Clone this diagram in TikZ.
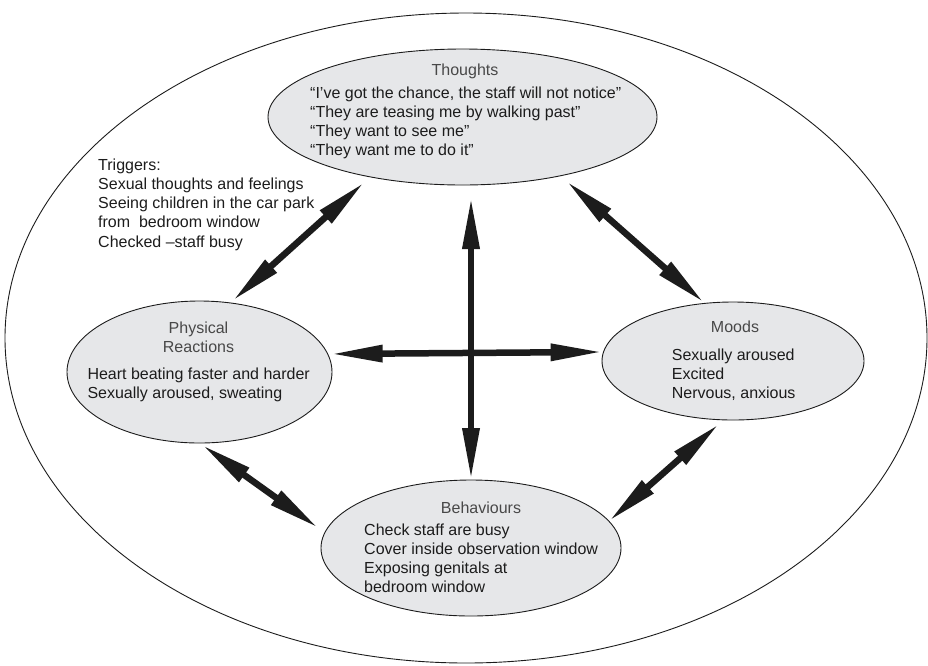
\documentclass[tikz,border=0pt]{standalone}
\usepackage{fontspec}
\setmainfont{Liberation Sans}
\usetikzlibrary{shapes.geometric,arrows.meta}
\definecolor{bubblefill}{RGB}{230,231,233}
\definecolor{ink}{RGB}{28,28,28}
\definecolor{heading}{RGB}{72,72,72}
\begin{document}
\begin{tikzpicture}[x=1pt,y=-1pt,
  frame/.style={ellipse, draw=ink, line width=0.9pt, inner sep=0pt, outer sep=0pt},
  bubble/.style={ellipse, draw=ink, line width=0.9pt, fill=bubblefill, inner sep=0pt, outer sep=0pt},
  body/.style={font=\fontsize{16}{19.3}\selectfont, text=ink, inner sep=0pt, anchor=base west},
  heading/.style={font=\fontsize{16}{19.3}\selectfont, text=heading, inner sep=0pt, anchor=base},
  headtip/.tip={Triangle[length=52pt,width=16pt]},
  link/.style={line width=6.5pt, draw=ink, headtip-headtip}
]
\useasboundingbox (0,0) rectangle (928,665);

% outer boundary
\node[frame, minimum width=922pt, minimum height=650pt] (frame) at (466,338) {};

% the four areas
\node[bubble, minimum width=389pt, minimum height=136pt] (th) at (462.5,117) {};
\node[bubble, minimum width=265pt, minimum height=142pt] (ph) at (199.5,372) {};
\node[bubble, minimum width=262pt, minimum height=118pt] (mo) at (733,361) {};
\node[bubble, minimum width=300pt, minimum height=136pt] (bh) at (471,548) {};

% two-way links
\draw[link, shorten <=3pt, shorten >=8pt] (ph.66) -- (th.213);
\draw[link, shorten <=1pt, shorten >=8pt] (mo.116) -- (th.329);
\draw[link, shorten >=12pt] (bh.north) -- (bh.north |- th.south);
\draw[link, shorten <=3pt, shorten >=1pt] (ph.8.5) -- (mo.176.5);
\draw[link, shorten <=3pt, shorten >=8pt] (ph.270) -- (bh.174);
\draw[link, shorten <=6pt] (mo.261) -- (bh.11.6);

% texts
\node[heading] (thT) at (465,75) {Thoughts};
\node[body] (thL) at (310,98) {\begin{tabular}[t]{@{}l@{}}
“I’ve got the chance, the staff will not notice”\\
“They are teasing me by walking past”\\
“They want to see me”\\
“They want me to do it”
\end{tabular}};

\node[body] (trg) at (98,170) {\begin{tabular}[t]{@{}l@{}}
Triggers:\\
Sexual thoughts and feelings\\
Seeing children in the car park\\
from\ \ bedroom window\\
Checked –staff busy
\end{tabular}};

\node[heading] (phT) at (198.5,333.3) {\begin{tabular}[t]{@{}c@{}}
Physical\\
Reactions
\end{tabular}};
\node[body] (phL) at (87.3,379) {\begin{tabular}[t]{@{}l@{}}
Heart beating faster and harder\\
Sexually aroused, sweating
\end{tabular}};

\node[heading] (moT) at (735,332.7) {Moods};
\node[body] (moL) at (671.7,360) {\begin{tabular}[t]{@{}l@{}}
Sexually aroused\\
Excited\\
Nervous, anxious
\end{tabular}};

\node[heading] (bhT) at (481,513.5) {Behaviours};
\node[body] (bhL) at (364,535) {\begin{tabular}[t]{@{}l@{}}
Check staff are busy\\
Cover inside observation window\\
Exposing genitals at\\
bedroom window
\end{tabular}};
\end{tikzpicture}
\end{document}
